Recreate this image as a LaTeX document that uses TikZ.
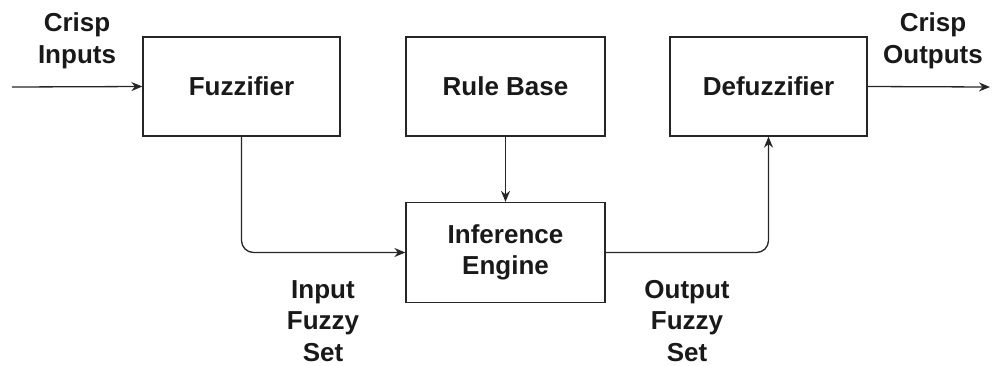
\documentclass[tikz,border=0pt]{standalone}
\usepackage{fontspec}
\setmainfont{Liberation Sans}
\usetikzlibrary{arrows.meta}
\begin{document}
\begin{tikzpicture}[x=1pt,y=-1pt,
  txt/.style={font=\fontsize{26}{31.5}\selectfont\bfseries, align=center, inner sep=0pt, text=black!90},
  blk/.style={draw=black!85, line width=1.3pt, minimum width=197pt, minimum height=99pt, inner sep=0pt, txt},
  arr/.style={draw=black!85, line width=1.3pt, -{Stealth[length=11pt,width=9pt]}}]
\useasboundingbox (0,0) rectangle (992,365);
\node[blk] (fuzz) at (241.5,86.5) {Fuzzifier};
\node[blk, minimum width=199pt] (rb) at (505.5,86.5) {Rule Base};
\node[blk, minimum width=199pt, minimum height=100pt] (inf) at (505.5,252.5) {Inference\\Engine};
\node[blk] (defuz) at (768.5,86.5) {Defuzzifier};
\node[txt] (ci) at (77,41) {Crisp\\Inputs};
\node[txt] (co) at (933,41) {Crisp\\Outputs};
\node[txt] (ifs) at (323,321) {Input\\Fuzzy\\Set};
\node[txt] (ofs) at (687,321) {Output\\Fuzzy\\Set};
\coordinate (in) at (12,87);
\coordinate (out) at (990,87);
\draw[arr] (in) -- (fuzz.west);
\draw[arr] (defuz.east) -- (out);
\draw[arr] (rb.south) -- (inf.north);
\draw[arr, rounded corners=12pt] (fuzz.south) |- (inf.west);
\draw[arr, rounded corners=12pt] (inf.east) -| (defuz.south);
\end{tikzpicture}
\end{document}
